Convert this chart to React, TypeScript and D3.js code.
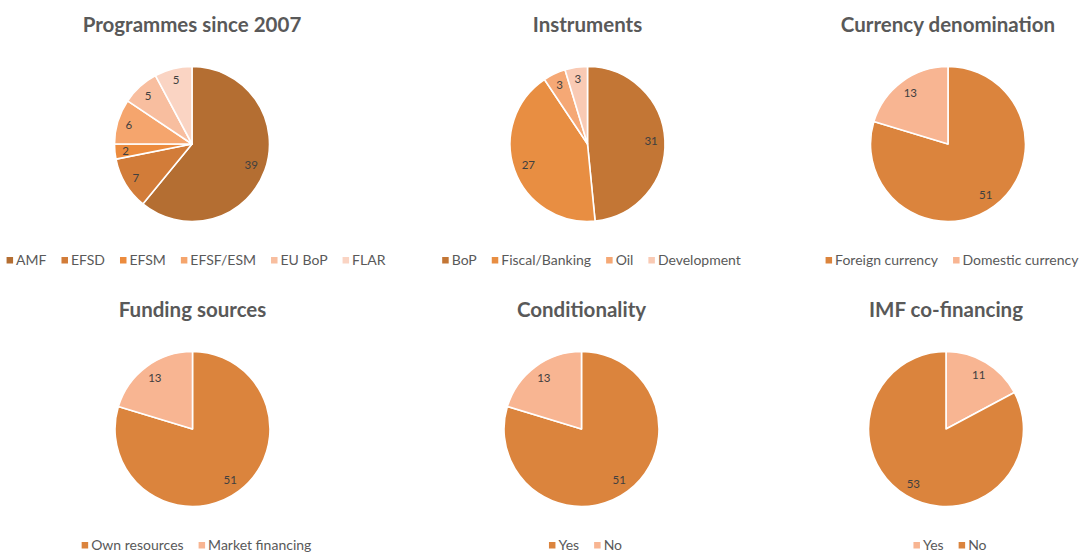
import React, { useEffect, useRef } from "react";
import * as d3 from "d3";

const W = 1083;
const H = 552;

// ---- Data ----
const programmeCategories = ["AMF", "EFSD", "EFSM", "EFSF/ESM", "EU BoP", "FLAR"];
const programmeValues = [39, 7, 2, 6, 5, 5];
const programmeColors = ["#B46E32", "#D27C39", "#EC8B3D", "#F5A56D", "#F8BE9F", "#FAD4C3"];

const instrumentCategories = ["BoP", "Fiscal/Banking", "Oil", "Development"];
const instrumentValues = [31, 27, 3, 3];
const instrumentColors = ["#C37635", "#E88E42", "#F5A875", "#F9CAB4"];

const currencyCategories = ["Foreign currency", "Domestic currency"];
const currencyValues = [51, 13];

const fundingCategories = ["Own resources", "Market financing"];
const fundingValues = [51, 13];

const conditionalityCategories = ["Yes", "No"];
const conditionalityValues = [51, 13];

const imfCategories = ["Yes", "No"];
const imfValues = [11, 53];

const mainOrange = "#DB843D";
const lightOrange = "#F8B592";

type Panel = {
  title: string;
  categories: string[];
  values: number[];
  colors: string[];
  cx: number;
  cy: number;
};

const panels: Panel[] = [
  { title: "Programmes since 2007", categories: programmeCategories, values: programmeValues, colors: programmeColors, cx: 192, cy: 144 },
  { title: "Instruments", categories: instrumentCategories, values: instrumentValues, colors: instrumentColors, cx: 587.5, cy: 144 },
  { title: "Currency denomination", categories: currencyCategories, values: currencyValues, colors: [mainOrange, lightOrange], cx: 948, cy: 144 },
  { title: "Funding sources", categories: fundingCategories, values: fundingValues, colors: [mainOrange, lightOrange], cx: 192.5, cy: 429 },
  { title: "Conditionality", categories: conditionalityCategories, values: conditionalityValues, colors: [mainOrange, lightOrange], cx: 581.5, cy: 429 },
  { title: "IMF co-financing", categories: imfCategories, values: imfValues, colors: [lightOrange, mainOrange], cx: 946, cy: 429 },
];

const R = 77.5;
const FONT = "Lato, 'Open Sans', sans-serif";

export default function App() {
  const ref = useRef<SVGSVGElement>(null);

  useEffect(() => {
    const svg = d3.select(ref.current!);
    svg.selectAll("*").remove();

    svg.append("rect").attr("width", W).attr("height", H).attr("fill", "#ffffff");

    const pie = d3.pie<number>().sort(null).value((d) => d);
    const arc = d3.arc<d3.PieArcDatum<number>>().innerRadius(0).outerRadius(R);

    panels.forEach((p) => {
      const g = svg.append("g").attr("transform", `translate(${p.cx},${p.cy})`);
      const arcs = pie(p.values);

      g.selectAll("path.slice")
        .data(arcs)
        .join("path")
        .attr("class", "slice")
        .attr("d", arc as any)
        .attr("fill", (_d, i) => p.colors[i])
        .attr("stroke", "#ffffff")
        .attr("stroke-width", 1.6)
        .attr("stroke-linejoin", "round");

      // data labels
      arcs.forEach((a) => {
        const mid = (a.startAngle + a.endAngle) / 2;
        const t = g
          .append("text")
          .text(String(a.value))
          .attr("font-family", FONT)
          .attr("font-size", 11.5)
          .attr("fill", "#404040")
          .attr("text-anchor", "middle")
          .attr("dy", "0.36em");
        const w = (t.node() as SVGTextElement).getComputedTextLength();
        const s = Math.sin(mid);
        const c = -Math.cos(mid);
        const dist = R - 7 - ((w / 2) * Math.abs(s) + 4 * Math.abs(c));
        t.attr("x", dist * s).attr("y", dist * c);
      });

      // title
      g.append("text")
        .text(p.title)
        .attr("x", 0)
        .attr("y", -112)
        .attr("text-anchor", "middle")
        .attr("font-family", FONT)
        .attr("font-weight", 700)
        .attr("font-size", 20.5)
        .attr("fill", "#595959");

      // legend
      const lg = g.append("g");
      const items = p.categories.map((cat, i) => {
        const it = lg.append("g");
        it.append("rect").attr("width", 6.5).attr("height", 6.5).attr("y", -7.5).attr("fill", p.colors[i]);
        const tx = it
          .append("text")
          .text(cat)
          .attr("x", 9.5)
          .attr("font-family", FONT)
          .attr("font-size", 14)
          .attr("fill", "#595959");
        const w = (tx.node() as SVGTextElement).getComputedTextLength();
        return { it, width: 9.5 + w };
      });
      const gap = 15;
      const total = items.reduce((s, d) => s + d.width, 0) + gap * (items.length - 1);
      let x = 4 - total / 2;
      items.forEach((d) => {
        d.it.attr("transform", `translate(${x},0)`);
        x += d.width + gap;
      });
      lg.attr("transform", `translate(0,${120.5})`);
    });
  }, []);

  return (
    <svg
      ref={ref}
      width={W}
      height={H}
      style={{ position: "absolute", left: 0, top: 0, display: "block" }}
    />
  );
}
